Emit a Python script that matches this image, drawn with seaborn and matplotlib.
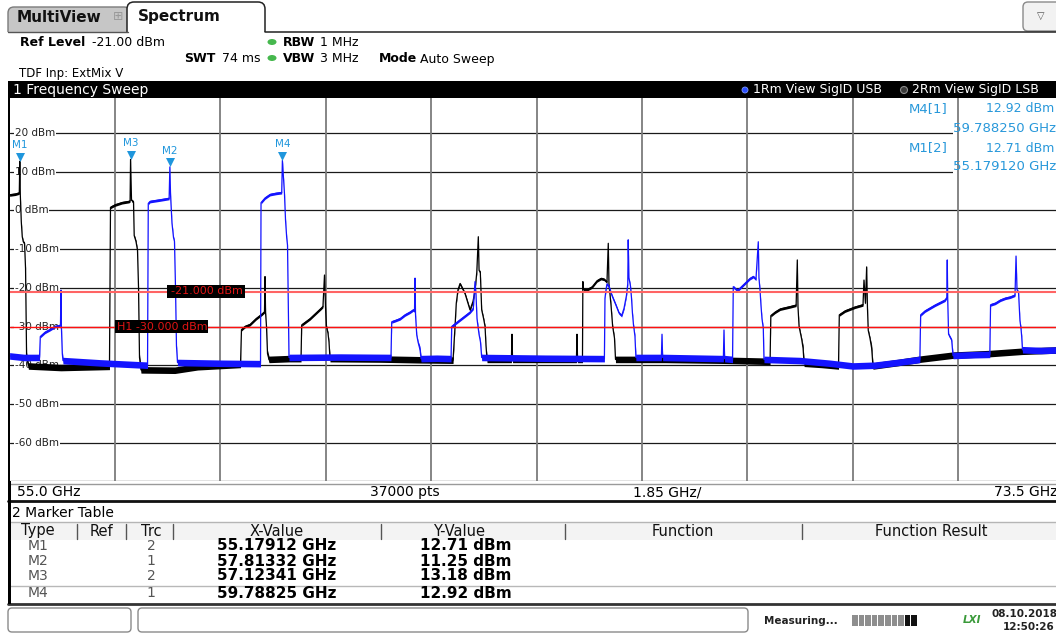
import numpy as np
import pandas as pd
import matplotlib
matplotlib.use("Agg")
import matplotlib.pyplot as plt
import seaborn as sns
from matplotlib.patches import Rectangle, FancyBboxPatch, Ellipse, Circle
from matplotlib.transforms import blended_transform_factory

# ---------------------------------------------------------------- data
f_start, f_stop, f_div = 55.0, 73.5, 1.85
y_ticks = [20, 10, 0, -10, -20, -30, -40, -50, -60]
display_line = -21.0
h1_line = -30.0

# Trace 1 (blue, 1Rm View SigID USB)
trace1_freq = [
    55.000, 55.250, 55.525,
    55.539, 55.621, 55.709, 55.797, 55.876, 55.893, 55.902, 55.909, 55.925, 55.937,
    56.588, 57.412,
    57.421, 57.434, 57.464, 57.640, 57.800, 57.813, 57.825, 57.850, 57.877, 57.894, 57.912, 57.929, 57.947,
    58.697, 59.395,
    59.404, 59.413, 59.483, 59.571, 59.676, 59.776, 59.788, 59.825, 59.843, 59.864, 59.878, 59.892, 59.904,
    60.800, 61.694,
    61.707, 61.765, 61.853, 61.941, 62.028, 62.086, 62.107, 62.116, 62.125, 62.146, 62.169, 62.204, 62.222,
    62.500, 62.748,
    62.760, 62.818, 62.906, 62.994, 63.081, 63.139, 63.169, 63.187, 63.204, 63.239, 63.265, 63.286,
    64.400, 65.440,
    65.450, 65.468, 65.485, 65.520, 65.573, 65.643, 65.696, 65.743, 65.784, 65.827, 65.850, 65.858, 65.871,
    65.897, 65.915, 65.932, 65.950, 65.976, 65.993,
    66.440, 66.451, 66.462, 67.528, 67.539, 67.550, 67.689,
    67.702, 67.750, 67.785, 67.855, 67.925, 67.995, 68.053, 68.100, 68.141, 68.153, 68.171, 68.188, 68.206,
    68.229, 68.241,
    68.871, 69.397, 69.801, 70.187, 70.626, 70.977,
    70.991, 71.067, 71.242, 71.418, 71.450, 71.458, 71.466, 71.481, 71.535, 71.559,
    71.900, 72.205,
    72.218, 72.301, 72.389, 72.476, 72.564, 72.647, 72.665, 72.682, 72.709, 72.734, 72.752, 72.764, 72.778,
    73.100, 73.500,
]
trace1_level = [
    -37.6, -38.0, -38.0,
    -32.6, -31.5, -30.8, -30.0, -29.8, -29.5, -20.6, -30.0, -37.0, -38.8,
    -39.4, -40.0,
    -40.0, 1.8, 2.3, 2.7, 3.1, 11.25, 4.0, -3.3, -7.0, -8.0, -20.0, -35.0, -39.3,
    -39.5, -39.6,
    -39.6, 2.0, 3.2, 4.1, 4.4, 4.6, 12.92, 4.2, -2.5, -7.1, -9.0, -25.0, -38.0,
    -37.9, -38.0,
    -28.8, -28.5, -28.0, -27.0, -26.3, -25.7, -26.0, -17.5, -27.0, -32.2, -34.0, -36.0, -38.3,
    -38.2, -38.3,
    -30.0, -29.3, -28.3, -27.3, -26.3, -25.3, -18.4, -22.0, -28.0, -32.0, -34.0, -38.0,
    -38.2, -38.3,
    -22.7, -20.5, -19.0, -19.6, -22.0, -24.5, -26.5, -27.2, -25.3, -22.0, -19.0, -7.6, -17.5,
    -19.5, -22.5, -26.5, -29.5, -32.5, -38.0,
    -38.0, -32.0, -38.0, -38.3, -30.9, -38.3, -38.5,
    -19.7, -20.4, -20.6, -19.6, -18.6, -17.6, -17.1, -17.8, -8.1, -17.5, -20.5, -24.5, -28.0,
    -30.5, -38.5,
    -38.8, -39.5, -40.2, -40.0, -39.2, -38.5,
    -27.0, -26.0, -24.5, -23.2, -22.5, -12.8, -23.0, -32.0, -33.5, -37.5,
    -37.3, -37.2,
    -24.4, -24.0, -23.2, -22.7, -22.4, -21.9, -11.8, -20.5, -21.2, -28.5, -30.5, -32.5, -36.0,
    -36.2, -36.0,
]

# Trace 2 (black, 2Rm View SigID LSB)
trace2_freq = [
    55.000, 55.100, 55.170, 55.179, 55.188, 55.205, 55.222, 55.240, 55.262, 55.280, 55.298, 55.330,
    55.900, 56.753,
    56.771, 56.849, 56.973, 57.095, 57.115, 57.123, 57.140, 57.175, 57.187, 57.218, 57.245, 57.263, 57.280,
    57.306,
    57.900, 58.300, 59.053,
    59.070, 59.132, 59.219, 59.325, 59.430, 59.474, 59.483, 59.493, 59.509, 59.527, 59.553,
    59.900, 60.115,
    60.127, 60.273, 60.475, 60.500, 60.527, 60.545, 60.562, 60.588, 60.606, 60.624,
    61.500, 62.200, 62.783,
    62.818, 62.840, 62.870, 62.906, 62.994, 63.081, 63.134, 63.169, 63.200, 63.227, 63.240, 63.262, 63.286,
    63.320, 63.345, 63.362, 63.380,
    63.808, 63.818, 63.828, 64.949, 64.959, 64.969, 65.055,
    65.062, 65.070, 65.135, 65.223, 65.310, 65.380, 65.433, 65.485, 65.508, 65.520, 65.555, 65.585, 65.617,
    65.635,
    66.500, 67.500, 68.348,
    68.361, 68.436, 68.524, 68.699, 68.805, 68.826, 68.838, 68.857, 68.903, 68.927, 68.945,
    69.250, 69.549,
    69.563, 69.663, 69.838, 69.979, 69.996, 70.022, 70.043, 70.057, 70.071, 70.101, 70.131, 70.154,
    70.600, 71.000, 71.559, 72.200, 72.770, 73.500,
]
trace2_level = [
    4.0, 4.2, 4.5, 12.71, 4.0, -2.9, -6.8, -8.1, -8.5, -15.0, -37.5, -40.2,
    -40.6, -40.3,
    0.8, 1.4, 2.0, 2.3, 2.5, 13.18, 2.6, 2.2, -6.5, -8.0, -10.3, -20.0, -38.0,
    -41.2,
    -41.3, -40.4, -39.8,
    -30.8, -30.0, -29.5, -28.0, -26.8, -26.2, -17.1, -26.5, -30.0, -37.0, -38.5,
    -38.3, -38.3,
    -29.6, -28.0, -25.2, -24.8, -16.7, -25.0, -30.0, -31.7, -34.0, -38.3,
    -38.4, -38.6, -38.7,
    -30.0, -24.0, -20.5, -18.9, -21.5, -25.7, -23.5, -20.7, -16.0, -6.8, -15.5, -16.0, -25.7,
    -28.0, -30.0, -35.0, -38.5,
    -38.5, -32.0, -38.5, -38.5, -32.0, -38.5, -38.5,
    -18.4, -20.4, -20.5, -19.8, -18.2, -17.6, -17.8, -18.5, -8.5, -19.0, -24.3, -30.0, -33.0,
    -38.5,
    -38.5, -38.7, -39.0,
    -27.2, -26.3, -25.5, -24.9, -24.5, -12.8, -25.0, -30.0, -33.3, -35.6, -39.5,
    -39.8, -40.2,
    -27.0, -26.0, -25.0, -24.4, -18.0, -24.0, -14.6, -25.0, -31.0, -33.0, -35.6, -40.2,
    -39.3, -38.4, -37.4, -37.0, -36.4, -36.0,
]

marker_names = ["M1", "M2", "M3", "M4"]
marker_trace = [2, 1, 2, 1]
marker_freq = [55.17912, 57.81332, 57.12341, 59.78825]
marker_level = [12.71, 11.25, 13.18, 12.92]

# ---------------------------------------------------------------- figure
sns.set_theme(style="white")
plt.rcParams["font.family"] = ["DejaVu Sans"]

W, H = 1056, 634
fig = plt.figure(figsize=(W / 100, H / 100), dpi=100)
fig.patch.set_facecolor("white")


def pixel_axes(z):
    a = fig.add_axes([0, 0, 1, 1], zorder=z)
    a.set_xlim(0, W)
    a.set_ylim(H, 0)
    a.axis("off")
    a.patch.set_visible(False)
    return a


bg = pixel_axes(0)
fg = pixel_axes(10)
PX = bg.transData


def T(ax, x, y, s, size=9, weight="normal", color="black", ha="left", va="center", **kw):
    return ax.text(x, y, s, fontsize=size, fontweight=weight, color=color,
                   ha=ha, va=va, **kw)


# ---- tabs
bg.add_patch(FancyBboxPatch((8, 7), 122, 34, boxstyle="round,pad=0,rounding_size=6",
                            fc="#c6c6c6", ec="#7a7a7a", lw=1))
bg.add_patch(FancyBboxPatch((127, 2), 138, 40, boxstyle="round,pad=0,rounding_size=7",
                            fc="white", ec="#222222", lw=1.1))
bg.add_patch(Rectangle((0, 31.5), W, 50, fc="white", ec="none"))
bg.plot([8, 127.5], [31.5, 31.5], color="#555555", lw=1)
bg.plot([265, W], [31.5, 31.5], color="#222222", lw=1.1)
T(bg, 17, 18, "MultiView", size=11, weight="bold", color="#111111")
T(bg, 118, 17, "⊞", size=9, color="#9a9a9a", ha="center")
T(bg, 138, 17, "Spectrum", size=11, weight="bold", color="#111111")
bg.add_patch(FancyBboxPatch((1023, 2), 40, 29, boxstyle="round,pad=0,rounding_size=5",
                            fc="#f2f2f2", ec="#8a8a8a", lw=1))
T(bg, 1041, 16, "▽", size=7, color="#555555", ha="center")

# ---- header settings
T(bg, 20, 43, "Ref Level", size=9, weight="bold")
T(bg, 92, 43, "-21.00 dBm", size=9)
T(bg, 184, 59, "SWT", size=9, weight="bold")
T(bg, 222, 59, "74 ms", size=9)
for yy in (42, 58):
    bg.add_patch(Ellipse((272, yy), 9, 6, fc="#46b84e", ec="none"))
T(bg, 283, 43, "RBW", size=9, weight="bold")
T(bg, 320, 43, "1 MHz", size=9)
T(bg, 283, 59, "VBW", size=9, weight="bold")
T(bg, 320, 59, "3 MHz", size=9)
T(bg, 379, 59, "Mode", size=9, weight="bold")
T(bg, 420, 59, "Auto Sweep", size=9)
T(bg, 19, 73, "TDF Inp: ExtMix V", size=8.5)

# ---- window title bar
bg.add_patch(Rectangle((7.5, 81), W, 17, fc="black", ec="none"))
T(bg, 13, 90, "1 Frequency Sweep", size=10, color="white")
bg.add_patch(Circle((745, 90), 3, fc="#2b4dff", ec="#7f9bff", lw=0.6))
T(bg, 753, 90, "1Rm View SigID USB", size=9, color="white")
bg.add_patch(Circle((904, 90), 3.5, fc="#3a3a3a", ec="#8a8a8a", lw=0.8))
T(bg, 912, 90, "2Rm View SigID LSB", size=9, color="white")

# ---------------------------------------------------------------- plot axes
x0, x1, ytop, ybot = 9.6, 1063.6, 98.0, 481.3
ax = fig.add_axes([x0 / W, 1 - ybot / H, (x1 - x0) / W, (ybot - ytop) / H], zorder=5)
ax.set_facecolor("white")
y_top_val = (210.3 - ytop) / 3.866
ax.set_xlim(f_start, f_stop)
ax.set_ylim(-70, y_top_val)
for s in ax.spines.values():
    s.set_visible(False)

# grid
for yv in y_ticks + [-70]:
    ax.axhline(yv, color="#1a1a1a", lw=0.9, zorder=1)
# white area behind marker-info frequency rows (hides the horizontal grid)
for yy in (126, 165):
    ax.add_patch(Rectangle((953, yy), 130, 10, fc="white", ec="none", transform=PX, zorder=1.1))
n_div = int(round((f_stop - f_start) / f_div))
for k in range(1, n_div):
    ax.axvline(f_start + k * f_div, color="#7c7c7c", lw=1.3, zorder=1.2)

# y labels inside plot
lab_tr = blended_transform_factory(PX, ax.transData)
for yv in y_ticks:
    ax.text(15, yv, f"{yv} dBm", transform=lab_tr, fontsize=7.5, color="#222222",
            ha="left", va="center", zorder=1.5,
            bbox=dict(fc="white", ec="none", pad=0.6))

# traces
df1 = pd.DataFrame({"freq": trace1_freq, "level": trace1_level})
df2 = pd.DataFrame({"freq": trace2_freq, "level": trace2_level})
for df, col, z in ((df2, "#000000", 3), (df1, "#1414ff", 4)):
    half = np.where(df["level"] < -35, 0.85, 0.35)
    ax.fill_between(df["freq"], df["level"] - half, df["level"] + half,
                    color=col, lw=0, zorder=z)
    sns.lineplot(data=df, x="freq", y="level", sort=False, estimator=None,
                 color=col, lw=0.9, ax=ax, zorder=z)

# limit / display lines
ax.axhline(display_line, color="#ff6464", lw=1.5, zorder=6)
ax.axhline(h1_line, color="#ff1010", lw=1.0, zorder=6)

# markers
mcol = "#1f96dc"
ax.scatter(marker_freq, [v + 1.2 for v in marker_level], marker="v", s=42,
           color=mcol, zorder=8, linewidths=0)
for n, fq, lv in zip(marker_names, marker_freq, marker_level):
    ax.text(fq, lv + 4.2, n, fontsize=7.5, color=mcol, ha="center", va="center", zorder=8)

ax.set_xticks([])
ax.set_yticks([])
ax.set_xlabel("")
ax.set_ylabel("")

# limit line labels
fg.add_patch(Rectangle((167, 284.5), 78, 13.5, fc="black", ec="none"))
T(fg, 171, 291.5, "-21.000 dBm", size=8, color="#e01414")
fg.add_patch(Rectangle((115, 319.5), 93, 13.5, fc="black", ec="none"))
T(fg, 117, 326.5, "H1 -30.000 dBm", size=8, color="#e01414")

# marker info
icol = "#2898da"
T(fg, 948, 109, "M4[1]", size=9.5, color=icol, ha="right")
T(fg, 986, 109, "12.92 dBm", size=9, color=icol)
T(fg, 953, 128, "59.788250 GHz", size=9.5, color=icol)
T(fg, 948, 148, "M1[2]", size=9.5, color=icol, ha="right")
T(fg, 986, 148, "12.71 dBm", size=9, color=icol)
T(fg, 953, 167, "55.179120 GHz", size=9.5, color=icol)

# ---- frequency footer of the diagram
bg.plot([10, W], [483.5, 483.5], color="#9a9a9a", lw=1)
bg.plot([7.5, W], [501, 501], color="#111111", lw=2)
T(bg, 17, 492, "55.0 GHz", size=10)
T(bg, 405, 492, "37000 pts", size=10, ha="center")
T(bg, 667, 492, "1.85 GHz/", size=10, ha="center")
T(bg, 994, 492, "73.5 GHz", size=10)

# ---- marker table
T(bg, 12, 513, "2 Marker Table", size=10)
bg.add_patch(Rectangle((10, 522), W, 18, fc="#f3f3f3", ec="none"))
bg.plot([10, W], [522, 522], color="#b5b5b5", lw=1)
hdr = [("Type", 38), ("Ref", 101), ("Trc", 151), ("X-Value", 277), ("Y-Value", 459),
       ("Function", 683), ("Function Result", 931)]
for s, xx in hdr:
    T(bg, xx, 531, s, size=10.5, ha="center", color="#111111")
for xx in (77, 126, 173, 381, 565, 802):
    bg.plot([xx, xx], [524, 539], color="#555555", lw=1)
x_vals = ["55.17912 GHz", "57.81332 GHz", "57.12341 GHz", "59.78825 GHz"]
y_vals = [f"{v:.2f} dBm" for v in marker_level]
row_y = [546, 561, 576, 593]
for n, trc, xv, yv, ry in zip(marker_names, marker_trace, x_vals, y_vals, row_y):
    T(bg, 38, ry, n, size=10, ha="center", color="#555555")
    T(bg, 151, ry, str(trc), size=10, ha="center", color="#555555")
    T(bg, 277, ry, xv, size=11, weight="bold", ha="center")
    T(bg, 466, ry, yv, size=11, weight="bold", ha="center")
bg.plot([10, W], [585.5, 585.5], color="#b8b8b8", lw=1)
bg.plot([7.5, W], [603.5, 603.5], color="#333333", lw=2)

# left window frame
bg.add_patch(Rectangle((7.5, 81), 3, 523, fc="black", ec="none", zorder=20))

# ---- status bar
bg.add_patch(FancyBboxPatch((8, 608), 123, 24, boxstyle="round,pad=0,rounding_size=4",
                            fc="white", ec="#8a8a8a", lw=1))
bg.add_patch(FancyBboxPatch((138, 608), 610, 24, boxstyle="round,pad=0,rounding_size=4",
                            fc="white", ec="#8a8a8a", lw=1))
T(bg, 764, 621, "Measuring...", size=7.5, weight="bold", color="#222222")
for i in range(10):
    bg.add_patch(Rectangle((852 + i * 6.6, 615), 5.6, 11,
                           fc="#111111" if i >= 8 else "#8e8e8e", ec="none"))
T(bg, 963, 620, "LXI", size=7.5, weight="bold", color="#3a9a3a", style="italic")
T(bg, 991, 614, "08.10.2018", size=7.5, weight="bold", color="#222222")
T(bg, 1003, 627, "12:50:26", size=7.5, weight="bold", color="#222222")

fig.savefig("out.png", dpi=100)
